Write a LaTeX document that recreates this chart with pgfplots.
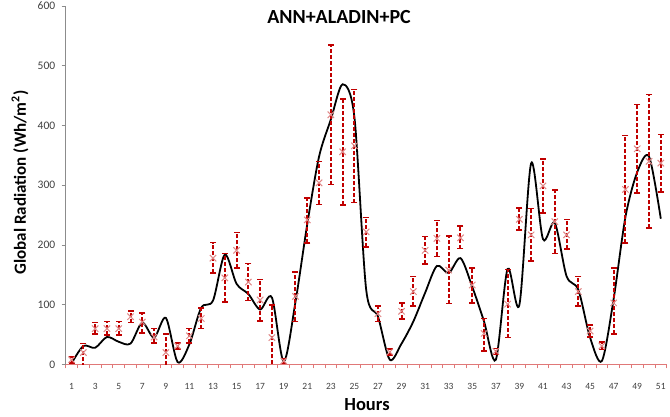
\documentclass[border=0pt]{standalone}
\usepackage{fontspec}
\setmainfont{Carlito}
\usepackage{pgfplots}
\usepackage{pgfplotstable}
\pgfplotsset{compat=1.18}
\definecolor{barred}{HTML}{C00000}
\definecolor{markred}{HTML}{E08888}
\definecolor{axred}{HTML}{E07878}
\definecolor{axgray}{HTML}{8C8C8C}
\definecolor{lblgray}{HTML}{404040}
\pgfplotstableread{
h o p ep em
1 2 8 5 5
2 31 20 15 25
3 28 60 10 9
4 46 60 12 11
5 38 60 12 11
6 35 80 10 10
7 70 71 15 18
8 45 46 14 10
9 78 20 31 31
10 4 31 5 5
11 34 48 12 12
12 95 77 18 17
13 107 178 26 25
14 184 145 41 40
15 135 191 30 30
16 118 138 31 31
17 92 108 34 35
18 112 45 55 55
19 5 6 4 4
20 105 114 41 42
21 235 242 37 39
22 348 304 36 36
23 410 418 117 117
24 469 356 88 89
25 414 366 94 95
26 125 222 24 25
27 80 85 13 13
28 8 21 5 5
29 35 89 14 13
30 72 122 25 24
31 120 191 23 23
32 165 211 30 30
33 153 158 57 56
34 178 212 20 18
35 130 133 29 30
36 72 52 25 29
37 8 22 5 5
38 160 101 58 56
39 100 243 19 18
40 337 217 44 44
41 210 299 45 45
42 237 239 53 53
43 148 217 26 24
44 125 122 25 24
45 45 56 10 10
46 6 31 7 6
47 110 103 58 52
48 247 293 90 90
49 322 361 74 74
50 348 340 112 112
51 244 337 48 48
}\datatable
\begin{document}
\begin{tikzpicture}
\useasboundingbox (0,0) rectangle (670pt,417pt);
\begin{axis}[
  at={(65.7pt,52.5pt)}, anchor=south west,
  scale only axis, width=601pt, height=358.5pt,
  xmin=0.5, xmax=51.5, ymin=0, ymax=600,
  axis x line*=bottom, axis y line*=left,
  x axis line style={color=axred, line width=0.8pt, -},
  y axis line style={color=axgray, line width=0.8pt, -},
  /pgf/number format/assume math mode=true,
  tick align=outside,
  xtick={0.5,1.5,...,51.5},
  xticklabel={\mbox{}},
  x tick style={color=axred, line width=0.8pt},
  extra x ticks={1,3,...,51},
  extra x tick labels={1,3,5,7,9,11,13,15,17,19,21,23,25,27,29,31,33,35,37,39,41,43,45,47,49,51},
  extra x tick style={major tick length=0pt, tick style={draw=none}},
  major tick length=4pt,
  ytick={0,100,...,600},
  y tick style={color=axgray, line width=0.8pt},
  xticklabel style={font=\fontsize{9.5}{10}\selectfont, text=lblgray, yshift=-15pt},
  yticklabel style={font=\fontsize{11.5}{12}\selectfont, text=lblgray, xshift=-3pt},
]
\addplot[black, line width=1.8pt, smooth, tension=0.5] table[x=h, y=o] {\datatable};
% dashed error bars
\addplot[barred, line width=2pt, dash pattern=on 4pt off 2pt, -,
  quiver={u=0, v=\thisrow{ep}+\thisrow{em}}]
  table[x=h, y expr=\thisrow{p}-\thisrow{em}] {\datatable};
% caps
\addplot[only marks, mark=-, mark size=3pt, mark options={barred, line width=1.6pt, solid}]
  table[x=h, y expr=\thisrow{p}+\thisrow{ep}] {\datatable};
\addplot[only marks, mark=-, mark size=3pt, mark options={barred, line width=1.6pt, solid},
  restrict y to domain=0.5:600]
  table[x=h, y expr=\thisrow{p}-\thisrow{em}] {\datatable};
% predicted markers
\addplot[only marks, mark=x, mark size=4.5pt, mark options={markred, line width=1pt, solid}]
  table[x=h, y=p] {\datatable};
\end{axis}
\node[font=\bfseries\fontsize{20}{22}\selectfont] at (339pt,400pt) {ANN+ALADIN+PC};
\node[font=\bfseries\fontsize{18.5}{20}\selectfont] at (367pt,12pt) {Hours};
\node[font=\bfseries\fontsize{17}{18}\selectfont, rotate=90] at (20pt,234.5pt) {Global Radiation (Wh/m\textsuperscript{2})};
\end{tikzpicture}
\end{document}
